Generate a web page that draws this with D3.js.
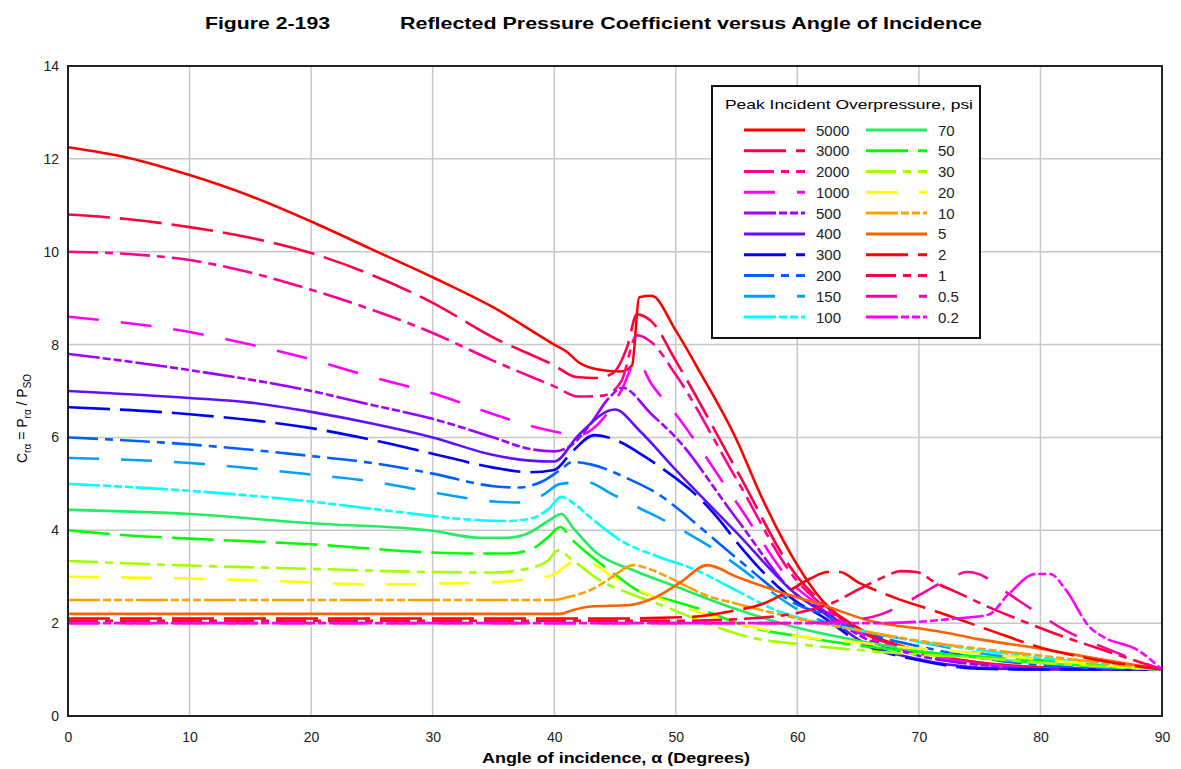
<!DOCTYPE html>
<html>
<head>
<meta charset="utf-8">
<script src="https://cdn.jsdelivr.net/npm/d3@7"></script>
<style>
  body { margin: 0; background: #fff; }
  svg { display: block; font-family: "Liberation Sans", Arial, sans-serif; }
</style>
</head>
<body>
<svg id="chart" width="1181" height="769"></svg>
<script>
// Reflected pressure coefficient curves: [angle (deg), C_ra]
var p5000 = [[0,12.25],[5,12.02],[10,11.65],[15,11.2],[20,10.65],[25,10.05],[30,9.45],[35,8.8],[40,8.0],[41,7.85],[42,7.62],[43.5,7.47],[45.5,7.42],[46.4,7.55],[47,9.02],[48,9.05],[50,8.3],[52,7.4],[55,5.95],[57,4.75],[60,3.25],[62,2.5],[65,1.9],[70,1.4],[75,1.15],[80,1.05],[85,1.0],[90,1.0]];
var p3000 = [[0,10.8],[5,10.7],[10,10.53],[15,10.3],[20,9.97],[25,9.5],[30,8.9],[35,8.15],[40,7.55],[41.8,7.3],[43.5,7.28],[44.8,7.38],[46,7.95],[46.8,8.65],[48,8.5],[50,7.65],[55,5.3],[60,3.0],[62,2.45],[65,1.85],[70,1.4],[75,1.15],[80,1.05],[90,1.0]];
var p2000 = [[0,10.0],[5,9.95],[10,9.82],[15,9.55],[20,9.18],[25,8.75],[30,8.25],[35,7.65],[40,7.1],[42,6.88],[44,6.9],[45.5,7.2],[46.8,8.2],[48,8.05],[50,7.35],[55,5.1],[60,2.9],[62,2.4],[65,1.8],[70,1.35],[75,1.12],[80,1.03],[90,1.0]];
var p1000 = [[0,8.6],[10,8.27],[15,8.0],[20,7.68],[25,7.3],[30,6.95],[35,6.5],[38,6.25],[40.5,6.1],[42,6.05],[44,6.4],[45.5,7.0],[46.8,7.65],[48,7.15],[50,6.5],[55,4.6],[60,2.75],[62,2.35],[65,1.8],[70,1.35],[75,1.12],[80,1.03],[90,1.0]];
var p500 = [[0,7.8],[10,7.45],[20,7.0],[25,6.7],[30,6.4],[35,6.0],[38,5.75],[40,5.7],[41.5,5.85],[43,6.3],[44.5,6.85],[45.6,7.07],[48,6.5],[50,6.0],[55,4.25],[60,2.6],[62,2.3],[65,1.75],[70,1.3],[75,1.1],[80,1.02],[90,1.0]];
var p400 = [[0,7.0],[10,6.85],[15,6.75],[20,6.55],[25,6.3],[30,6.0],[35,5.62],[38,5.5],[40,5.48],[42,6.05],[45,6.6],[47,6.15],[50,5.3],[55,3.95],[60,2.6],[62,2.25],[65,1.65],[70,1.22],[75,1.04],[80,1.0],[90,1.0]];
var p300 = [[0,6.65],[10,6.5],[20,6.2],[25,5.95],[30,5.65],[35,5.35],[38,5.25],[40,5.3],[41.5,5.7],[43.3,6.05],[45.6,5.88],[47,5.66],[50,5.12],[51.2,4.87],[53.6,4.22],[55,3.75],[60,2.45],[62,2.15],[65,1.6],[70,1.2],[75,1.02],[80,1.0],[90,1.0]];
var p200 = [[0,6.0],[10,5.85],[20,5.6],[25,5.45],[30,5.22],[35,4.95],[37,4.92],[39,5.05],[40.5,5.3],[41.5,5.47],[43,5.42],[46,5.12],[49,4.7],[50,4.5],[55,3.4],[60,2.4],[62,2.2],[65,1.85],[70,1.5],[75,1.25],[80,1.1],[85,1.03],[90,1.0]];
var p150 = [[0,5.56],[10,5.45],[20,5.2],[25,5.05],[30,4.82],[35,4.62],[37,4.6],[39,4.75],[40.5,5.0],[42.7,5.04],[44.6,4.8],[47,4.48],[49,4.22],[51.2,3.9],[53,3.62],[55,3.25],[60,2.3],[62,2.05],[65,1.85],[70,1.6],[75,1.35],[80,1.2],[85,1.08],[90,1.0]];
var p100 = [[0,5.0],[10,4.85],[20,4.62],[27,4.4],[33.6,4.22],[36,4.2],[38,4.25],[39.5,4.45],[40.6,4.72],[41.5,4.6],[42.9,4.29],[45.4,3.79],[48.7,3.42],[51.7,3.14],[55,2.7],[58.6,2.24],[62,2.0],[65,1.85],[70,1.6],[75,1.42],[80,1.25],[85,1.12],[90,1.0]];
var p70 = [[0,4.44],[10,4.35],[20,4.15],[30,3.99],[33.8,3.84],[36.1,3.84],[37.9,3.94],[39.5,4.2],[40.6,4.35],[41.5,4.07],[43.5,3.51],[46.5,3.14],[50.1,2.78],[53.6,2.43],[55,2.3],[60,1.9],[65,1.62],[70,1.4],[75,1.25],[80,1.14],[85,1.06],[90,1.0]];
var p50 = [[0,4.0],[4.4,3.9],[10,3.82],[20,3.7],[30,3.52],[33,3.5],[36.1,3.5],[38,3.58],[39.5,3.85],[40.5,4.07],[41.5,3.79],[42.7,3.51],[45,3.05],[46.8,2.71],[49.5,2.5],[52,2.3],[56,1.92],[60,1.72],[65,1.52],[70,1.38],[75,1.28],[80,1.18],[85,1.08],[90,1.0]];
var p30 = [[0,3.34],[10,3.24],[20,3.17],[30,3.1],[35,3.09],[37.9,3.18],[39.5,3.35],[40.3,3.57],[41.5,3.36],[43.7,2.93],[46.2,2.64],[49.2,2.35],[52,2.05],[56,1.7],[60,1.55],[65,1.42],[70,1.32],[75,1.25],[80,1.15],[85,1.07],[90,1.0]];
var p20 = [[0,3.0],[10,2.96],[20,2.88],[25,2.83],[30,2.85],[35,2.88],[38,2.95],[40,3.05],[41.5,3.3],[42.8,3.3],[44.8,3.0],[47,2.7],[50,2.4],[55,2.0],[60,1.72],[65,1.58],[70,1.45],[75,1.35],[80,1.22],[85,1.1],[90,1.0]];
var p10 = [[0,2.5],[20,2.5],[40,2.5],[41,2.55],[43.5,2.78],[44.8,3.0],[46.5,3.25],[48,3.15],[49.3,3.0],[52.8,2.57],[55,2.42],[60,2.1],[65,1.85],[70,1.62],[75,1.45],[80,1.3],[85,1.15],[90,1.0]];
var p5 = [[0,2.2],[20,2.2],[40.5,2.2],[41.5,2.28],[43,2.36],[46.2,2.39],[48.1,2.53],[50.3,2.86],[52.6,3.25],[55,3.0],[58.8,2.65],[62,2.4],[65.7,2.07],[71.7,1.82],[75,1.65],[80,1.45],[85,1.22],[90,1.0]];
var p2 = [[0,2.1],[20,2.1],[45,2.1],[51,2.13],[55,2.28],[57,2.4],[59,2.65],[61,2.95],[62.5,3.1],[63.5,3.1],[65,2.88],[68,2.55],[71.8,2.22],[75.8,1.85],[80.2,1.46],[83.8,1.25],[90,1.0]];
var p1 = [[0,2.05],[20,2.05],[50,2.05],[56,2.1],[60,2.22],[63,2.45],[65,2.72],[67,2.98],[68.5,3.12],[69.8,3.1],[71.5,2.85],[73,2.68],[75.7,2.35],[78,2.1],[82,1.7],[86,1.35],[90,1.0]];
var p05 = [[0,2.0],[20,2.0],[60,2.0],[64,2.05],[67,2.2],[69,2.45],[71,2.75],[72.8,3.0],[74,3.1],[75,3.05],[77,2.7],[79.4,2.28],[82,1.85],[85,1.5],[90,1.0]];
var p02 = [[0,2.0],[20,2.0],[66,2.0],[70,2.03],[73,2.1],[75.7,2.18],[77.4,2.63],[79.6,3.06],[80.8,3.06],[82,2.75],[84.1,1.9],[85.2,1.7],[88,1.42],[90,1.0]];

var seriesLabels = ["5000", "3000", "2000", "1000", "500", "400", "300", "200", "150", "100",
                    "70", "50", "30", "20", "10", "5", "2", "1", "0.5", "0.2"];
var seriesValues = [p5000, p3000, p2000, p1000, p500, p400, p300, p200, p150, p100,
                    p70, p50, p30, p20, p10, p5, p2, p1, p05, p02];

var xTicks = [0, 10, 20, 30, 40, 50, 60, 70, 80, 90];
var yTicks = [0, 2, 4, 6, 8, 10, 12, 14];

// line styles, in the same order as the series
var colors = ["#ff0000", "#ff0040", "#ff0090", "#ff00ff", "#a000ff", "#6010ff", "#0000ff", "#0060ff", "#00a0ff", "#00ffff",
              "#20ee60", "#00ff00", "#a0ff00", "#ffff00", "#ffa000", "#ff6000", "#ff0000", "#ff0040", "#ff00a0", "#ff00ff"];
var dashStyles = {
    solid: null,
    longGap: "42,10",
    dashDot: "30,7,8,7",
    bigGap: "31,22",
    dashDots: "32,3,8,3,8,3,8,3"
};
var dashOrder = ["solid", "longGap", "dashDot", "bigGap", "dashDots"];

var svg = d3.select("#chart");
var margin = { left: 68, top: 66, right: 19, bottom: 53 };
var width = 1181 - margin.left - margin.right;
var height = 769 - margin.top - margin.bottom;

var x = d3.scaleLinear().domain([0, 90]).range([margin.left, margin.left + width]);
var y = d3.scaleLinear().domain([0, 14]).range([margin.top + height, margin.top]);

// Title
svg.append("text")
    .attr("x", 205).attr("y", 29)
    .attr("font-size", 17).attr("font-weight", "bold")
    .attr("textLength", 125).attr("lengthAdjust", "spacingAndGlyphs")
    .text("Figure 2-193");
svg.append("text")
    .attr("x", 400).attr("y", 29)
    .attr("font-size", 17).attr("font-weight", "bold")
    .attr("textLength", 582).attr("lengthAdjust", "spacingAndGlyphs")
    .text("Reflected Pressure Coefficient versus Angle of Incidence");

// Grid
var grid = svg.append("g").attr("stroke", "#c8c8c8").attr("stroke-width", 1.5);
grid.selectAll(".gx").data(xTicks).join("line")
    .attr("x1", (d) => x(d)).attr("x2", (d) => x(d))
    .attr("y1", y(0)).attr("y2", y(14));
grid.selectAll(".gy").data(yTicks).join("line")
    .attr("x1", x(0)).attr("x2", x(90))
    .attr("y1", (d) => y(d)).attr("y2", (d) => y(d));

// Axes (labels only, border drawn separately)
var xAxis = svg.append("g")
    .attr("transform", `translate(0, ${y(0)})`)
    .call(d3.axisBottom(x).tickValues(xTicks).tickSize(0).tickPadding(16));
var yAxis = svg.append("g")
    .attr("transform", `translate(${x(0)}, 0)`)
    .call(d3.axisLeft(y).tickValues(yTicks).tickSize(0).tickPadding(9));
[xAxis, yAxis].forEach((g) => {
    g.select(".domain").remove();
    g.selectAll("text").attr("font-size", 14).attr("fill", "#222")
        .attr("font-family", "'Liberation Sans', Arial, sans-serif");
});

// Curves
var line = d3.line()
    .x((d) => x(d[0]))
    .y((d) => y(d[1]))
    .curve(d3.curveMonotoneX);

var curves = seriesValues.map((v, i) => ({ label: seriesLabels[i], values: v, i: i }));

svg.append("g")
    .attr("fill", "none")
    .attr("stroke-width", 2.6)
    .selectAll("path")
    .data(curves)
    .join("path")
    .attr("stroke", (d) => colors[d.i])
    .attr("stroke-dasharray", (d) => dashStyles[dashOrder[d.i % 5]])
    .attr("d", (d) => line(d.values));

// Plot border
svg.append("rect")
    .attr("x", x(0)).attr("y", y(14))
    .attr("width", x(90) - x(0)).attr("height", y(0) - y(14))
    .attr("fill", "none").attr("stroke", "#222").attr("stroke-width", 2);

// Axis titles
svg.append("text")
    .attr("x", 482).attr("y", 763)
    .attr("font-size", 15).attr("font-weight", "bold")
    .attr("textLength", 268).attr("lengthAdjust", "spacingAndGlyphs")
    .text("Angle of incidence, α (Degrees)");

var yl = svg.append("text")
    .attr("transform", "translate(27, 463) rotate(-90)")
    .attr("font-size", 14);
yl.append("tspan").text("C");
yl.append("tspan").attr("font-size", 10).attr("dy", 4).text("rα");
yl.append("tspan").attr("dy", -4).text(" = P");
yl.append("tspan").attr("font-size", 10).attr("dy", 4).text("rα");
yl.append("tspan").attr("dy", -4).text(" / P");
yl.append("tspan").attr("font-size", 10).attr("dy", 4).text("SO");

// Legend
var legend = svg.append("g");
legend.append("rect")
    .attr("x", 712).attr("y", 86).attr("width", 268).attr("height", 252)
    .attr("fill", "#fff").attr("stroke", "#111").attr("stroke-width", 2);
legend.append("text")
    .attr("x", 725).attr("y", 109)
    .attr("font-size", 13)
    .attr("textLength", 248).attr("lengthAdjust", "spacingAndGlyphs")
    .text("Peak Incident Overpressure, psi");

var rowY = d3.scaleLinear().domain([0, 9]).range([130, 317]);
var items = legend.selectAll(".item").data(curves).join("g")
    .attr("transform", (d) => `translate(${d.i < 10 ? 744 : 866}, ${rowY(d.i % 10)})`);
items.append("line")
    .attr("x1", 0).attr("x2", 61)
    .attr("stroke", (d) => colors[d.i])
    .attr("stroke-width", 3)
    .attr("stroke-dasharray", (d) => dashStyles[dashOrder[d.i % 5]]);
items.append("text")
    .attr("x", 72).attr("y", 5.5)
    .attr("font-size", 15)
    .attr("fill", "#222")
    .text((d) => d.label);
</script>
</body>
</html>
